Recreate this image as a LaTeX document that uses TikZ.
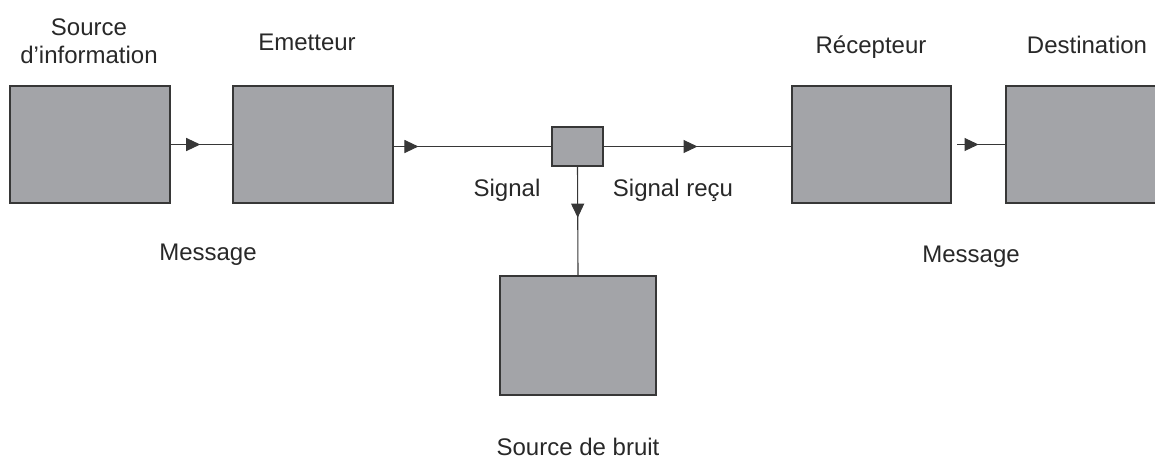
\documentclass[tikz,border=0pt]{standalone}
\usepackage{fontspec}
\setmainfont{Liberation Sans}
\usetikzlibrary{arrows.meta,decorations.markings}
\definecolor{boxfill}{RGB}{163,164,168}
\definecolor{boxline}{RGB}{55,55,55}
\definecolor{txt}{RGB}{40,40,40}
\tikzset{
  blockbox/.style={draw=boxline, line width=1.3pt, fill=boxfill, inner sep=0pt, outer sep=0pt},
  lbl/.style={text=txt, font=\fontsize{24}{28}\selectfont, inner sep=0pt, align=center},
  wire/.style={draw=boxline, line width=1.1pt},
  midarrow/.style={decoration={markings, mark=at position #1 with {\arrow{Triangle[length=14pt,width=13pt]}}}, postaction=decorate}
}
\begin{document}
\begin{tikzpicture}[x=1pt,y=-1pt]
\useasboundingbox (0,0) rectangle (1155,458);
\begin{scope}
\clip (0,0) rectangle (1155,458);
% boxes
\node[blockbox, minimum width=160pt, minimum height=117pt] (src) at (90,144.5) {};
\node[blockbox, minimum width=160pt, minimum height=117pt] (emt) at (313,144.5) {};
\node[blockbox, minimum width=51pt, minimum height=39pt] (chan) at (577.5,146.5) {};
\node[blockbox, minimum width=159pt, minimum height=117pt] (rec) at (871.5,144.5) {};
\node[blockbox, minimum width=160pt, minimum height=117pt] (dst) at (1086,144.5) {};
\node[blockbox, minimum width=156pt, minimum height=119pt] (noise) at (578,335.5) {};
\end{scope}
% connectors
\draw[wire, midarrow=0.48] (src.east) -- (emt.west);
\draw[wire, midarrow=0.16] (emt.east |- chan.west) -- (chan.west);
\draw[wire, midarrow=0.5] (chan.east) -- (chan.east -| rec.west);
\draw[wire, midarrow=0.47] (chan.south) -- (noise.north);
\draw[wire, midarrow=0.5, shorten <=6pt] (rec.east) -- (dst.west);
% labels
\node[lbl, anchor=base] (lsrc) at (89,63) {Source\\d’information};
\node[lbl, anchor=base] (lemt) at (307,50) {Emetteur};
\node[lbl, anchor=base] (lrec) at (871,53) {Récepteur};
\node[lbl, anchor=base] (ldst) at (1087,53) {Destination};
\node[lbl, anchor=base] (lsig) at (507,196) {Signal};
\node[lbl, anchor=base] (lsigr) at (673,196) {Signal reçu};
\node[lbl, anchor=base] (lmsg1) at (208,260) {Message};
\node[lbl, anchor=base] (lmsg2) at (971,262) {Message};
\node[lbl, anchor=base] (lnoise) at (578,455) {Source de bruit};
\end{tikzpicture}
\end{document}
